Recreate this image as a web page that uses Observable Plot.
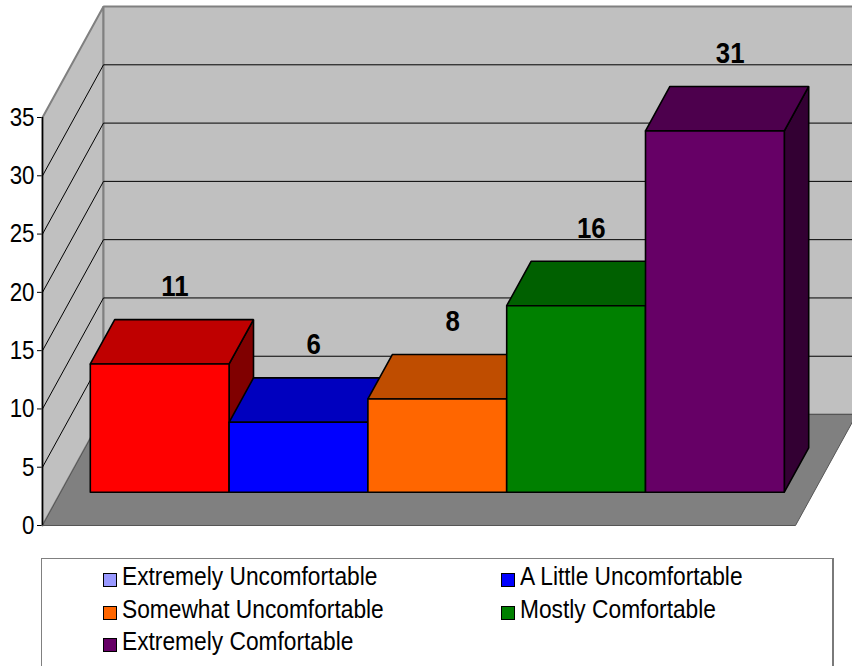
<!DOCTYPE html>
<html>
<head>
<meta charset="utf-8">
<script src="https://cdn.jsdelivr.net/npm/d3@7"></script>
<script src="https://cdn.jsdelivr.net/npm/@observablehq/plot@0.6"></script>
<style>
  html, body { margin: 0; padding: 0; background: #fff; overflow: hidden; }
  body { width: 852px; height: 666px; }
  #chart svg { display: block; }
  .legend {
    box-sizing: border-box;
    margin-left: 41px;
    width: 793px;
    height: 130px;
    border-top: 1px solid #808080;
    border-left: 1px solid #808080;
    border-right: 2px solid #7a7a7a;
    padding: 1px 0 0 61px;
    display: grid;
    grid-template-columns: 398px 320px;
    grid-auto-rows: 32.5px;
    font-family: "Liberation Sans Narrow", "Arial Narrow", "Liberation Sans", Arial, sans-serif;
    font-size: 26px;
    line-height: 32.5px;
    color: #000;
  }
  .legend .item { white-space: nowrap; }
  .legend .sw {
    display: inline-block;
    box-sizing: border-box;
    width: 14px;
    height: 14px;
    border: 1.6px solid #000;
    margin-right: 5px;
    vertical-align: -2px;
  }
  .legend .name {
    display: inline-block;
    transform: scaleX(0.875);
    transform-origin: 0 50%;
  }
</style>
</head>
<body>
<div id="chart"></div>
<div id="legend" class="legend"></div>
<script>
// Survey responses: how comfortable people felt
const categories = [
  "Extremely Uncomfortable",
  "A Little Uncomfortable",
  "Somewhat Uncomfortable",
  "Mostly Comfortable",
  "Extremely Comfortable"
];
const counts = [11, 6, 8, 16, 31];
const yTicks = [0, 5, 10, 15, 20, 25, 30, 35];
const barColors = ["#FF0000", "#0000FF", "#FF6600", "#008000", "#660066"];
const legendColors = ["#9999FF", "#0000FF", "#FF6600", "#008000", "#660066"];

// Oblique 3-D box geometry, expressed in scale units:
// x in category slots, y in count units, d = depth (0 front, 1 back wall).
const X0 = -0.2125, X1 = categories.length + 0.2125;
const KX = 0.4395, KY = 9.52;          // shift per full depth unit
const D_FRONT = 0.3, D_BACK = 0.7;     // depth of the columns
const YMAX = yTicks[yTicks.length - 1];
const NARROW = 0.86;                   // horizontal squeeze for the condensed lettering

const proj = ([x, v, d]) => ({x: x + d * KX, y: v + d * KY});
const shade = (c, k) => { const r = d3.rgb(c); return d3.rgb(r.r * k, r.g * k, r.b * k).formatHex(); };

function face(id, fill, pts) {
  return [...pts, pts[0]].map((p) => ({id, fill, ...proj(p)}));
}

// Walls and floor
const walls = [
  ...face("left", "#c0c0c0", [[X0, 0, 0], [X0, 0, 1], [X0, YMAX, 1], [X0, YMAX, 0]]),
  ...face("back", "#c0c0c0", [[X0, 0, 1], [X1, 0, 1], [X1, YMAX, 1], [X0, YMAX, 1]])
];
const floor = face("floor", "#808080", [[X0, 0, 0], [X1, 0, 0], [X1, 0, 1], [X0, 0, 1]]);

// Gridlines on the back and left walls
const grid = [];
for (const t of yTicks.slice(1, -1)) {
  const a = proj([X0, t, 0]), b = proj([X0, t, 1]), c = proj([X1, t, 1]);
  grid.push({x1: a.x, y1: a.y, x2: b.x, y2: b.y});
  grid.push({x1: b.x, y1: b.y, x2: c.x, y2: c.y});
}

// Column faces: right side, top, front — drawn left to right
const bars = [];
counts.forEach((v, i) => {
  const c = barColors[i];
  bars.push(...face(`side${i}`, shade(c, 0.5), [[i + 1, 0, D_FRONT], [i + 1, 0, D_BACK], [i + 1, v, D_BACK], [i + 1, v, D_FRONT]]));
  bars.push(...face(`top${i}`, shade(c, 0.75), [[i, v, D_FRONT], [i + 1, v, D_FRONT], [i + 1, v, D_BACK], [i, v, D_BACK]]));
  bars.push(...face(`front${i}`, c, [[i, 0, D_FRONT], [i + 1, 0, D_FRONT], [i + 1, v, D_FRONT], [i, v, D_FRONT]]));
});

// Value labels floating above each column
const LD = 0.55;
const labels = counts.map((v, i) => ({...proj([i + 0.5, v, LD]), text: String(v)}));

const chart = Plot.plot({
  width: 852,
  height: 558,
  marginLeft: 42,
  marginRight: 57,
  marginTop: 117,
  marginBottom: 33,
  style: "font-family: 'Liberation Sans Narrow', 'Arial Narrow', 'Liberation Sans', Arial, sans-serif; font-size: 26px; color: #000; background: #fff;",
  x: {type: "linear", domain: [X0, X1], axis: null},
  y: {domain: [0, YMAX], ticks: yTicks, tickSize: 5, tickPadding: 3, label: null, tickFormat: (d) => String(d)},
  color: {type: "identity"},
  marks: [
    Plot.line(walls, {x: "x", y: "y", z: "id", fill: "fill", stroke: "#808080", strokeWidth: 2, strokeLinejoin: "miter"}),
    Plot.line(floor, {x: "x", y: "y", z: "id", fill: "fill", stroke: "#555", strokeWidth: 1, strokeLinejoin: "miter"}),
    Plot.link(grid, {x1: "x1", y1: "y1", x2: "x2", y2: "y2", stroke: "#000", strokeWidth: 1}),
    Plot.ruleX([X0], {y1: 0, y2: YMAX, stroke: "#000", strokeWidth: 1.5}),
    Plot.line(bars, {x: "x", y: "y", z: "id", fill: "fill", stroke: "#000", strokeWidth: 1.6, strokeLinejoin: "miter"}),
    Plot.text(labels, {x: "x", y: "y", text: "text", dy: -50, fontSize: 30, fontWeight: "bold", fill: "#000"})
  ]
});
document.getElementById("chart").append(chart);

// Condense tick and value lettering horizontally
chart.querySelectorAll("text").forEach((t) => {
  const len = t.getComputedTextLength();
  if (len > 0) {
    t.setAttribute("textLength", (len * NARROW).toFixed(2));
    t.setAttribute("lengthAdjust", "spacingAndGlyphs");
  }
});

// Legend below the plot area
const legend = d3.select("#legend");
categories.forEach((name, i) => {
  const item = legend.append("div").attr("class", "item");
  item.append("span").attr("class", "sw").style("background", legendColors[i]);
  item.append("span").attr("class", "name").text(name);
});
</script>
</body>
</html>
